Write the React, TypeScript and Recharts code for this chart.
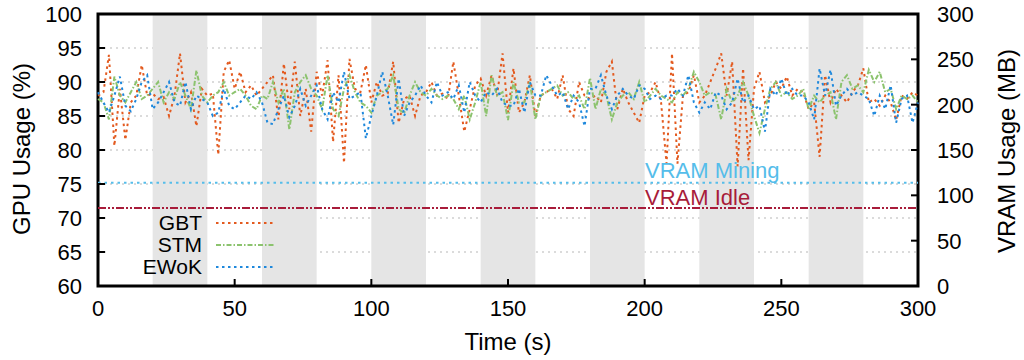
import React from "react";
import {
  LineChart,
  Line,
  XAxis,
  YAxis,
  CartesianGrid,
  ReferenceArea,
} from "recharts";

// sampled every 2 s, t = 0 .. 300
const SAMPLE_STEP = 2;

const gbt = [
  88, 88.5, 94, 80.6, 89, 81.5, 87, 88, 92.5, 88,
  88.3, 87.5, 87.8, 85, 88, 94.2, 87, 88.5, 83.5, 89,
  88, 88.3, 79.3, 91.5, 93.2, 89, 91.5, 88.5, 89.5, 88,
  89, 90, 91, 84.5, 92.7, 86, 93, 85, 89, 82.7,
  91.5, 88, 93.2, 81.2, 91, 78.1, 93.4, 89, 88.5, 92.5,
  87, 90, 88, 88.3, 93, 84, 87.5, 88, 85, 88,
  88.5, 90, 88, 88.3, 87.5, 93, 88, 82.7, 86, 89.5,
  90.5, 88, 91, 88, 94.2, 85.5, 92, 85.5, 87, 91,
  85, 88, 88.5, 89, 87.5, 91, 86, 85, 90, 88,
  87.5, 88, 87, 91.5, 93, 86, 89, 87, 85.5, 84,
  88, 88.5, 90, 87, 78, 94.2, 78, 88, 88.5, 91,
  87, 88, 90, 92, 94.2, 88, 93, 77.6, 92, 78.5,
  89, 91.5, 87, 88, 90, 89, 90.8, 88, 89, 88.5,
  86, 87, 79, 91, 87, 89, 88, 87, 88.5, 89.5,
  92, 87, 87.5, 86.5, 88, 87, 84.4, 88, 87.5, 88.5,
  88,
];

const stm = [
  87.5, 87, 84.5, 90.8, 88, 87, 88.5, 90, 87.5, 88,
  89, 90, 87, 88.5, 87.5, 90, 88, 86, 91.7, 88,
  87, 88, 88.5, 90, 88, 88.5, 89, 88, 86.5, 86,
  88, 87.5, 90, 87, 89, 83, 88.5, 90, 91, 89,
  88, 86, 91, 86, 85, 89, 91, 88.5, 87, 86.5,
  85.5, 88, 88.5, 89, 91, 86, 85.4, 88, 90, 88.5,
  88, 89, 88, 87.5, 88, 87.5, 86, 88, 84.5, 87,
  90, 85, 91, 88, 88.5, 84.4, 90, 87, 87, 90,
  84.5, 88, 88.5, 89, 89.5, 88, 88.5, 87.5, 88, 86,
  90.6, 86, 89, 88, 84.5, 87, 88, 88.5, 87.5, 90,
  87, 88, 89, 88, 87.5, 87, 88.5, 88, 89, 91.5,
  90, 88, 88.5, 88, 84.5, 89, 87, 88, 90, 88,
  85, 82.5, 86, 89, 90, 88, 88.5, 87.5, 88, 89,
  86, 88, 87, 88, 88.5, 84.5, 90, 91, 89, 89.5,
  88.5, 91.8, 90, 91.5, 88.5, 89, 86, 88, 87.5, 88,
  87,
];

const ewok = [
  88.5, 87, 85.5, 88, 90.8, 86.5, 85.7, 87.5, 90, 91,
  86, 87, 88.5, 90, 87, 86.5, 90, 86, 88, 87.5,
  87, 85, 85.5, 89, 86.5, 86, 87, 88, 87.5, 88.5,
  87, 84, 83.8, 86, 88, 84.8, 86.5, 89, 86.5, 88,
  89.5, 86, 84.5, 88.5, 87, 91.5, 87.5, 88, 88.5, 81.7,
  85, 88, 91.5, 88, 83.7, 90.5, 85, 87, 88, 89.5,
  88, 87, 90, 88, 88.5, 87.5, 89.5, 85.5, 90, 88,
  87, 88.5, 88, 89, 87, 86.5, 86.5, 89, 85.5, 90,
  88, 88, 91, 89.5, 88, 88.5, 86, 88, 87, 83.5,
  89, 89, 91, 88, 86, 88, 89, 88, 87.5, 89.5,
  89, 87.5, 88, 87.5, 88, 88, 89, 88, 91, 87,
  85.5, 87, 86, 88.5, 88, 86, 87, 90.5, 87, 88,
  86, 86.5, 82.7, 89, 88, 90.5, 88, 89, 88, 88,
  87, 84.5, 92, 88, 91.8, 86.5, 88, 89, 88, 88.5,
  88, 87.5, 85, 88, 86, 89.5, 84, 87.5, 88, 84,
  87,
];

// mining phases (s)
const bands = [
  [20, 40],
  [60, 80],
  [100, 120],
  [140, 160],
  [180, 200],
  [220, 240],
  [260, 280],
];

const vramMining = 114; // MB
const vramIdle = 86; // MB

const xTicks = [0, 50, 100, 150, 200, 250, 300];
const gpuTicks = [60, 65, 70, 75, 80, 85, 90, 95, 100];
const vramTicks = [0, 50, 100, 150, 200, 250, 300];

const data = gbt.map((v, i) => ({
  t: i * SAMPLE_STEP,
  gbt: v,
  stm: stm[i],
  ewok: ewok[i],
  mining: vramMining,
  idle: vramIdle,
}));

const FONT = "'Liberation Sans', Arial, sans-serif";
const C_GBT = "#e35a1f";
const C_STM = "#8cc36e";
const C_EWOK = "#1e88dc";
const C_MINING = "#55bdea";
const C_IDLE = "#a81c3a";

const series = [
  { key: "gbt", name: "GBT", color: C_GBT, dash: "2.5 3.5" },
  { key: "stm", name: "STM", color: C_STM, dash: "5 2 1.5 2" },
  { key: "ewok", name: "EWoK", color: C_EWOK, dash: "2.5 3.5" },
];

const TICK_LEN = 7;
const TICK_FS = 22;

// inward tick mark + label, drawn relative to the label anchor
function LeftTick(props: any) {
  const { x, y, payload } = props;
  const ax = x + 16;
  return (
    <g>
      <line x1={ax} x2={ax + TICK_LEN} y1={y} y2={y} stroke="#000" strokeWidth={2} />
      <text x={x} y={y} dy="0.36em" textAnchor="end" fontSize={TICK_FS} fontFamily={FONT} fill="#000">
        {payload.value}
      </text>
    </g>
  );
}

function RightTick(props: any) {
  const { x, y, payload } = props;
  const ax = x - 19;
  return (
    <g>
      <line x1={ax} x2={ax - TICK_LEN} y1={y} y2={y} stroke="#000" strokeWidth={2} />
      <text x={x} y={y} dy="0.36em" textAnchor="start" fontSize={TICK_FS} fontFamily={FONT} fill="#000">
        {payload.value}
      </text>
    </g>
  );
}

function BottomTick(props: any) {
  const { x, y, payload } = props;
  const ay = y - 14;
  return (
    <g>
      <line x1={x} x2={x} y1={ay} y2={ay - TICK_LEN} stroke="#000" strokeWidth={2} />
      <text x={x} y={y} dy="0.72em" textAnchor="middle" fontSize={TICK_FS} fontFamily={FONT} fill="#000">
        {payload.value}
      </text>
    </g>
  );
}

const titleStyle: React.CSSProperties = {
  position: "absolute",
  fontSize: 24,
  whiteSpace: "nowrap",
  color: "#000",
};

export default function App() {
  return (
    <div
      style={{
        position: "absolute",
        left: 0,
        top: 0,
        width: 1024,
        height: 360,
        background: "#fff",
        fontFamily: FONT,
      }}
    >
      <LineChart
        width={1024}
        height={360}
        data={data}
        margin={{ top: 14, right: 46, bottom: 44, left: 38 }}
      >
        <CartesianGrid
          yAxisId="left"
          vertical={false}
          stroke="#d0d0d0"
          strokeDasharray="2 4"
          strokeWidth={1.5}
        />
        {/* opaque legend box hides the grid behind the key */}
        <ReferenceArea
          yAxisId="left"
          x1={4}
          x2={70}
          y1={62}
          y2={73}
          fill="#fff"
          fillOpacity={1}
          stroke="none"
        />
        {bands.map(([a, b]) => (
          <ReferenceArea
            key={a}
            yAxisId="left"
            x1={a}
            x2={b}
            y1={60}
            y2={100}
            fill="#e5e5e5"
            fillOpacity={1}
            stroke="none"
          />
        ))}
        <Line
          yAxisId="right"
          type="linear"
          dataKey="mining"
          stroke={C_MINING}
          strokeWidth={2}
          strokeDasharray="2.5 4"
          dot={false}
          activeDot={false}
          isAnimationActive={false}
        />
        <Line
          yAxisId="right"
          type="linear"
          dataKey="idle"
          stroke={C_IDLE}
          strokeWidth={2}
          strokeDasharray="8 2 2 2 2 2"
          dot={false}
          activeDot={false}
          isAnimationActive={false}
        />
        {series.map((s) => (
          <Line
            key={s.key}
            yAxisId="left"
            type="linear"
            dataKey={s.key}
            stroke={s.color}
            strokeWidth={2}
            strokeDasharray={s.dash}
            dot={false}
            activeDot={false}
            isAnimationActive={false}
          />
        ))}
        {/* plot frame */}
        <ReferenceArea
          yAxisId="left"
          x1={0}
          x2={300}
          y1={60}
          y2={100}
          fill="none"
          stroke="#000"
          strokeWidth={3}
          ifOverflow="visible"
        />
        <XAxis
          dataKey="t"
          type="number"
          domain={[0, 300]}
          ticks={xTicks}
          height={30}
          tickSize={0}
          tickMargin={14}
          tick={<BottomTick />}
          axisLine={false}
          tickLine={false}
          interval={0}
        />
        <YAxis
          yAxisId="left"
          domain={[60, 100]}
          ticks={gpuTicks}
          width={60}
          tickSize={0}
          tickMargin={16}
          tick={<LeftTick />}
          axisLine={false}
          tickLine={false}
          interval={0}
          allowDataOverflow
        />
        <YAxis
          yAxisId="right"
          orientation="right"
          domain={[0, 300]}
          ticks={vramTicks}
          width={60}
          tickSize={0}
          tickMargin={19}
          tick={<RightTick />}
          axisLine={false}
          tickLine={false}
          interval={0}
          allowDataOverflow
        />
      </LineChart>

      {/* axis titles */}
      <div style={{ ...titleStyle, left: 22, top: 149, transform: "translate(-50%, -50%) rotate(-90deg)" }}>
        GPU Usage (%)
      </div>
      <div style={{ ...titleStyle, left: 1007, top: 151, transform: "translate(-50%, -50%) rotate(-90deg)" }}>
        VRAM Usage (MB)
      </div>
      <div style={{ ...titleStyle, left: 508, top: 342, transform: "translate(-50%, -50%)" }}>
        Time (s)
      </div>

      {/* reference line labels */}
      <div
        style={{
          position: "absolute",
          left: 645,
          top: 158,
          fontSize: 22,
          lineHeight: "26px",
          color: C_MINING,
          whiteSpace: "nowrap",
        }}
      >
        VRAM Mining
      </div>
      <div
        style={{
          position: "absolute",
          left: 645,
          top: 185,
          fontSize: 22,
          lineHeight: "26px",
          color: C_IDLE,
          whiteSpace: "nowrap",
        }}
      >
        VRAM Idle
      </div>

      {/* legend */}
      {series.map((s, i) => {
        const cy = 223 + i * 22;
        return (
          <React.Fragment key={s.key}>
            <div
              style={{
                position: "absolute",
                right: 1024 - 202,
                top: cy - 13,
                fontSize: 21,
                lineHeight: "26px",
                color: "#000",
                whiteSpace: "nowrap",
              }}
            >
              {s.name}
            </div>
            <svg
              style={{ position: "absolute", left: 216, top: cy - 3 }}
              width={60}
              height={6}
            >
              <line
                x1={0}
                x2={58}
                y1={3}
                y2={3}
                stroke={s.color}
                strokeWidth={2}
                strokeDasharray={s.dash}
              />
            </svg>
          </React.Fragment>
        );
      })}
    </div>
  );
}
